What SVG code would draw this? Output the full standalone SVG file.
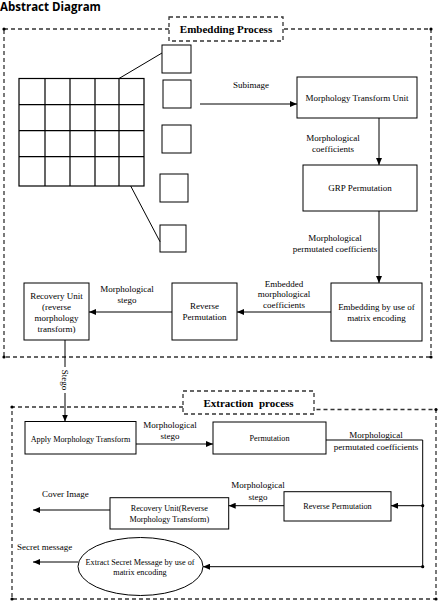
<svg xmlns="http://www.w3.org/2000/svg" width="438" height="602" viewBox="0 0 438 602">
<style>
.box{fill:#fff;stroke:#000;stroke-width:1}
.dash{fill:none;stroke:#333;stroke-width:1.3;stroke-dasharray:4 3}
.dashw{fill:#fff;stroke:#333;stroke-width:1.3;stroke-dasharray:4 3}
.ln{fill:none;stroke:#000;stroke-width:1}
.ar{fill:none;stroke:#000;stroke-width:1;marker-end:url(#ah)}
.grid{fill:none;stroke:#000;stroke-width:1.2}
.t{font-family:"Liberation Serif","Times New Roman",serif;font-size:9px;fill:#000;text-anchor:middle}
.s{font-size:8.2px}
.b{font-weight:bold;font-size:11px}
.l{text-anchor:start}
.dot{fill:#000}
</style>
<defs>
<marker id="ah" markerUnits="userSpaceOnUse" markerWidth="8" markerHeight="6" refX="7" refY="3" orient="auto">
<path d="M0,0 L7,3 L0,6 z" fill="#000"/>
</marker>
</defs>
<rect width="438" height="602" fill="#fff"/>
<text x="0" y="10.5" font-family="'Open Sans','Liberation Sans',sans-serif" font-weight="bold" font-size="11.5" fill="#000">Abstract Diagram</text>

<g id="embedding-frame">
<path class="dash" d="M4,29 H431 V357 H4 Z"/>
<circle class="dot" cx="4" cy="29" r="1.6"/><circle class="dot" cx="431" cy="29" r="1.6"/>
<circle class="dot" cx="4" cy="357" r="1.6"/><circle class="dot" cx="431" cy="357" r="1.6"/>
<rect class="dashw" x="169" y="17" width="114" height="24"/>
<text class="t b" x="226" y="33">Embedding Process</text>
</g>

<g id="image-grid">
<rect class="grid" x="19" y="78.5" width="125" height="107.5"/>
<path class="grid" d="M45,78.5V186 M70,78.5V186 M95,78.5V186 M119,78.5V186 M19,104.7H144 M19,130.7H144 M19,156.7H144"/>
<rect class="box" x="162" y="45" width="29" height="28"/>
<rect class="box" x="163" y="80" width="28" height="28"/>
<rect class="box" x="162" y="125" width="29" height="28"/>
<rect class="box" x="160" y="174" width="28" height="28"/>
<rect class="box" x="160" y="225" width="26" height="27"/>
<path class="ln" d="M119,78.5 L162,53 M130.7,186 L160,241.7"/>
</g>

<g id="mtu"><rect class="box" x="297" y="77" width="120" height="41"/>
<text class="t" x="357" y="101">Morphology Transform Unit</text></g>
<g id="grp"><rect class="box" x="303" y="165" width="114" height="46"/>
<text class="t" x="360" y="190.5">GRP Permutation</text></g>
<g id="embed"><rect class="box" x="331" y="283" width="91" height="58"/>
<text class="t" x="376.5" y="310">Embedding by use of</text>
<text class="t" x="376.5" y="321">matrix encoding</text></g>
<g id="revperm1"><rect class="box" x="172" y="283" width="65" height="57"/>
<text class="t" x="204.5" y="309">Reverse</text>
<text class="t" x="204.5" y="320">Permutation</text></g>
<g id="recovery1"><rect class="box" x="24" y="283" width="65" height="57"/>
<text class="t" x="56.5" y="299">Recovery Unit</text>
<text class="t" x="56.5" y="310">(reverse</text>
<text class="t" x="56.5" y="321">morphology</text>
<text class="t" x="56.5" y="332">transform)</text></g>

<g id="extraction-frame">
<path class="dash" d="M183,407 H12 V599 H436 V409.5 H314"/>
<circle class="dot" cx="12" cy="407" r="1.6"/><circle class="dot" cx="436" cy="409.5" r="1.6"/>
<circle class="dot" cx="12" cy="599" r="1.6"/><circle class="dot" cx="436" cy="599" r="1.6"/>
<rect class="dashw" x="183" y="391" width="131" height="23"/>
<text class="t b" x="248.5" y="406.5" xml:space="preserve">Extraction  process</text>
</g>

<g id="apply"><rect class="box" x="25" y="421.5" width="111" height="32.5"/>
<text class="t s" x="80.5" y="441.5">Apply Morphology Transform</text></g>
<g id="perm"><rect class="box" x="213" y="422" width="113" height="32"/>
<text class="t s" x="269.5" y="441">Permutation</text></g>
<g id="revperm2"><rect class="box" x="284" y="491.7" width="107" height="29.3"/>
<text class="t s" x="337.5" y="509">Reverse Permutation</text></g>
<g id="recovery2"><rect class="box" x="110" y="497.7" width="118.7" height="31.3"/>
<text class="t s" x="169.3" y="511">Recovery Unit(Reverse</text>
<text class="t s" x="169.3" y="522">Morphology Transform)</text></g>
<g id="extract"><ellipse class="box" cx="140.5" cy="566.5" rx="62.5" ry="29"/>
<text class="t s" x="140" y="564.5">Extract Secret Message by use of</text>
<text class="t s" x="140" y="574.5">matrix encoding</text></g>

<g id="connectors">
<line class="ar" x1="200" y1="104" x2="297" y2="104"/>
<text class="t" x="251" y="88">Subimage</text>
<line class="ar" x1="379" y1="118" x2="379" y2="165"/>
<text class="t" x="333" y="140.5">Morphological</text>
<text class="t" x="333" y="151.5">coefficients</text>
<line class="ar" x1="379" y1="211" x2="379" y2="283"/>
<text class="t" x="335" y="241">Morphological</text>
<text class="t" x="335" y="252">permutated coefficients</text>
<line class="ar" x1="331" y1="312" x2="237" y2="312"/>
<text class="t" x="284" y="286.5">Embedded</text>
<text class="t" x="284" y="297">morphological</text>
<text class="t" x="284" y="307.5">coefficients</text>
<line class="ar" x1="172" y1="312" x2="89" y2="312"/>
<text class="t" x="127" y="292">Morphological</text>
<text class="t" x="127" y="303">stego</text>
<line class="ar" x1="65" y1="340" x2="65" y2="421.5"/>
<rect x="60" y="367" width="10" height="26" fill="#fff"/>
<text class="t" x="65" y="380" transform="rotate(90 65 380)" dominant-baseline="central" font-size="10">Stego</text>
<line class="ar" x1="136" y1="444" x2="213" y2="444"/>
<text class="t" x="170" y="428">Morphological</text>
<text class="t" x="170" y="438.5">stego</text>
<path class="ln" d="M326,440 H422.7 V566.7"/>
<text class="t" x="376" y="438">Morphological</text>
<text class="t" x="376" y="449.5">permutated coefficients</text>
<circle class="dot" cx="422.7" cy="505.7" r="1.6"/>
<circle class="dot" cx="422.7" cy="566.7" r="1.6"/>
<line class="ar" x1="422.7" y1="505.7" x2="391" y2="505.7"/>
<line class="ar" x1="284" y1="505.7" x2="228.7" y2="505.7"/>
<text class="t" x="258" y="488">Morphological</text>
<text class="t" x="258" y="499.5">stego</text>
<line class="ar" x1="110" y1="510" x2="33" y2="510"/>
<text class="t l" x="42" y="497">Cover Image</text>
<line class="ar" x1="422.7" y1="566.7" x2="203" y2="566.7"/>
<line class="ar" x1="78" y1="562" x2="33" y2="562"/>
<text class="t l" x="17" y="550">Secret message</text>
</g>
</svg>
